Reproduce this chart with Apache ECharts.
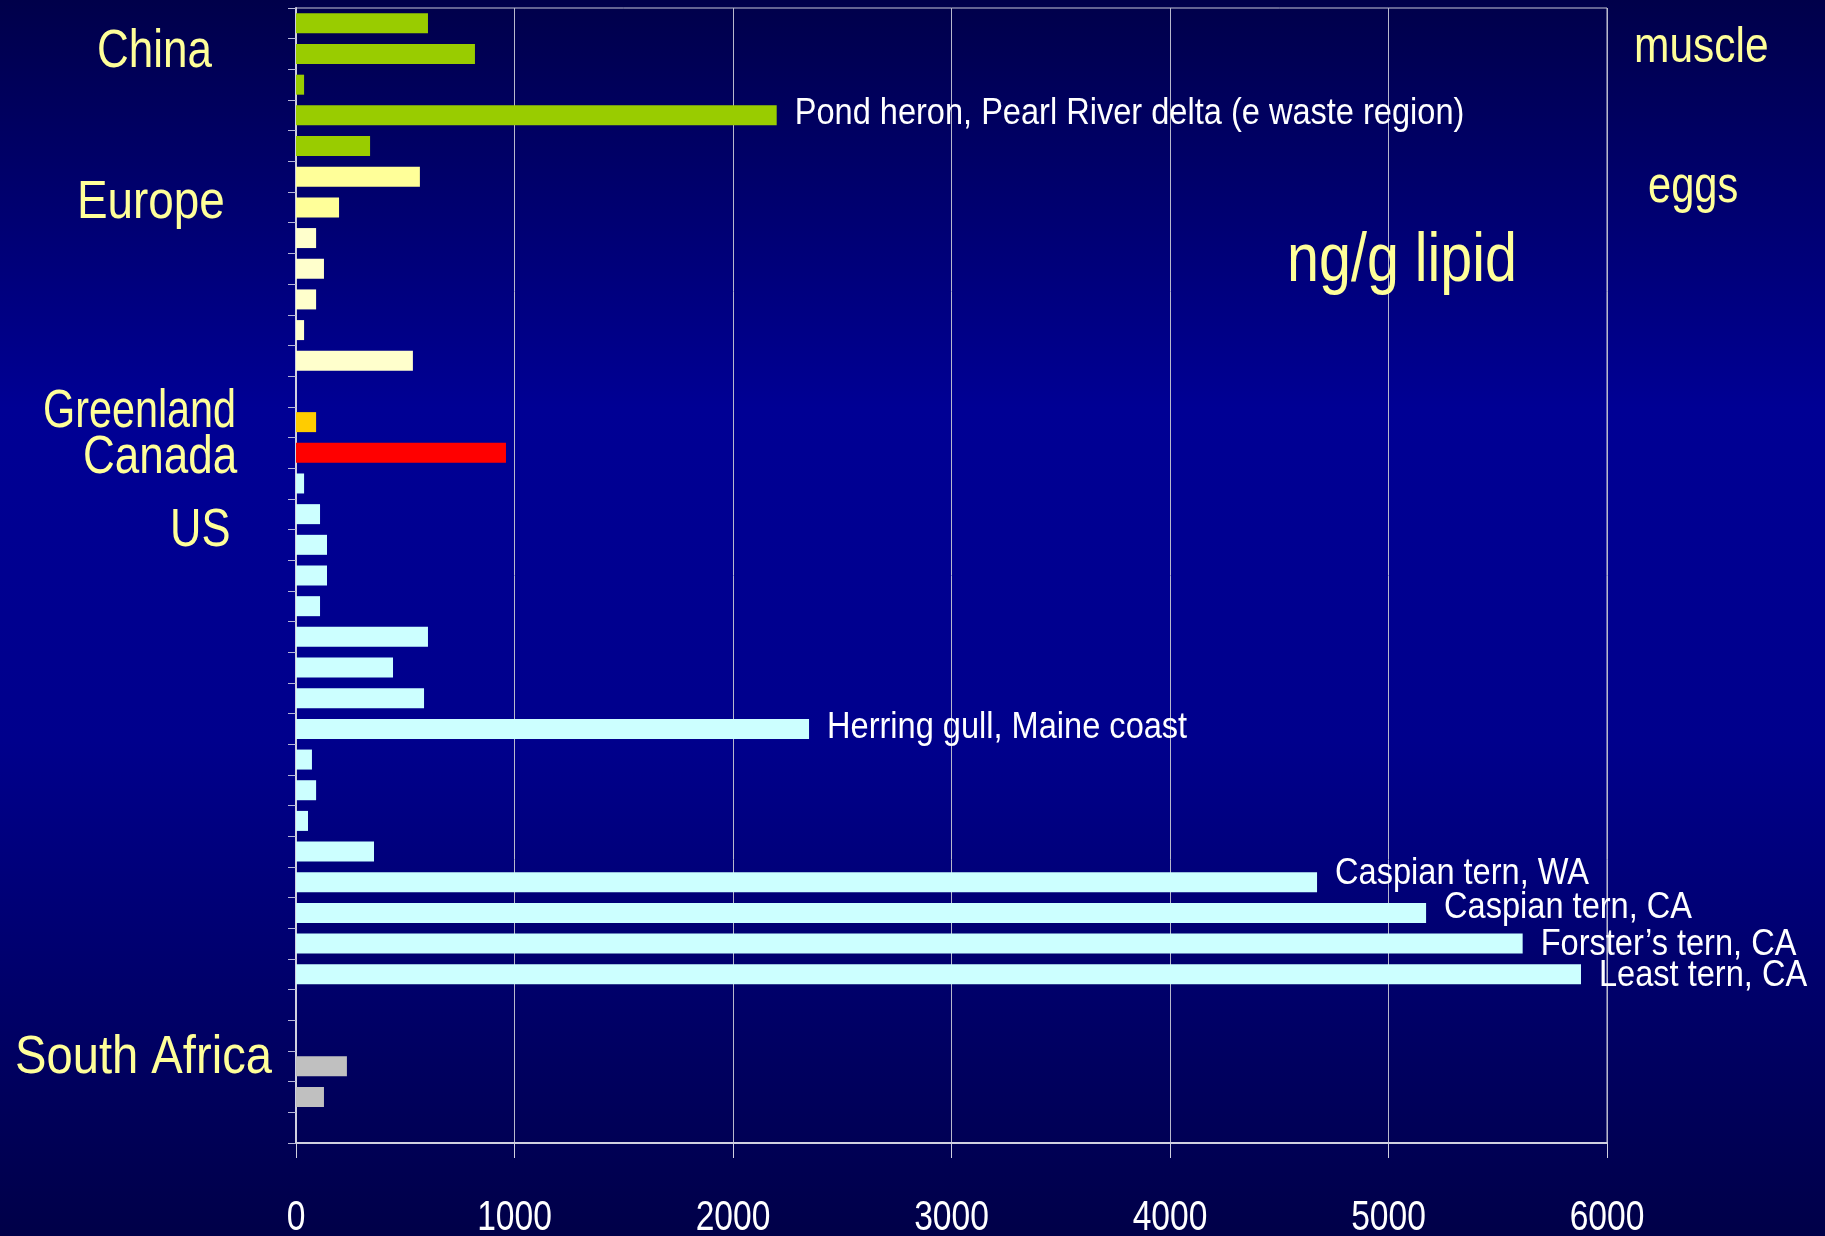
<!DOCTYPE html>
<html>
<head>
<meta charset="utf-8">
<script src="https://cdn.jsdelivr.net/npm/echarts@6/dist/echarts.min.js"></script>
<style>
  html, body { margin: 0; padding: 0; width: 1825px; height: 1236px; overflow: hidden; background: #000070; }
  #chart { width: 1825px; height: 1236px; }
</style>
</head>
<body>
<div id="chart"></div>
<script>
// ---- data (ng/g lipid) ----
const chinaMuscle     = [604, 819, 37, 2200, 339];
const europeEggs      = [567, 197, 92, 128, 92, 37, 535];
const greenlandEggs   = [92];
const canadaEggs      = [961];
const usEggs          = [37, 110, 142, 142, 110, 604, 444, 586, 2348, 73, 92, 55, 357, 4673, 5172, 5614, 5881];
const southAfricaEggs = [233, 128];
const xTicks          = [0, 1000, 2000, 3000, 4000, 5000, 6000];
const regionNames     = ['China', 'Europe', 'Greenland', 'Canada', 'US', 'South Africa'];
const sideLabels      = ['muscle', 'eggs', 'ng/g lipid'];
const annotations = [
  { region: 'China', index: 3,  text: 'Pond heron, Pearl River delta (e waste region)' },
  { region: 'US',    index: 8,  text: 'Herring gull, Maine coast' },
  { region: 'US',    index: 13, text: 'Caspian tern, WA' },
  { region: 'US',    index: 14, text: 'Caspian tern, CA' },
  { region: 'US',    index: 15, text: 'Forster\u2019s tern, CA' },
  { region: 'US',    index: 16, text: 'Least tern, CA' }
];

// ---- styles / layout ----
const FONT = '"Liberation Sans", Arial, sans-serif';
const YELLOW = '#FFFF99';
const annotationOffsets = [-2, -1, -8, -5, 1, 2];

const blocks = [
  { region: 'China', values: chinaMuscle, color: (i) => '#99CC00' },
  { region: 'Europe', values: europeEggs, color: (i) => i < 2 ? '#FFFF99' : '#FFFFCC' },
  { gap: 1 },
  { region: 'Greenland', values: greenlandEggs, color: () => '#FFCC00' },
  { region: 'Canada', values: canadaEggs, color: () => '#FF0000' },
  { region: 'US', values: usEggs, color: () => '#CCFFFF' },
  { gap: 2 },
  { region: 'South Africa', values: southAfricaEggs, color: () => '#C0C0C0' },
  { gap: 1 }
];

const categories = [];
const barData = [];
const annotationData = [];
let gapCount = 0;
blocks.forEach(b => {
  if (b.gap) {
    for (let g = 0; g < b.gap; g++) { categories.push('gap' + (++gapCount)); barData.push(null); }
    return;
  }
  b.values.forEach((v, i) => {
    const row = categories.length;
    categories.push(b.region + ' ' + (i + 1));
    barData.push({ value: v, itemStyle: { color: b.color(i) } });
    const k = annotations.findIndex(a => a.region === b.region && a.index === i);
    if (k >= 0) annotationData.push([v, row, k]);
  });
});

function txt(x, y, text, size, fill, scaleX, align) {
  return {
    type: 'text', x: x, y: y, scaleX: scaleX, scaleY: 1, z: 10, silent: true,
    style: { text: text, fill: fill, font: size + 'px ' + FONT,
      textAlign: align || 'left', align: align || 'left',
      textVerticalAlign: 'middle', verticalAlign: 'middle' }
  };
}

// [left x, centre y, horizontal squeeze]
const regionLabelPos = {
  'China': [97, 52, 0.83], 'Europe': [77, 203, 0.865], 'Greenland': [43, 412, 0.78],
  'Canada': [83, 458, 0.83], 'US': [170, 531, 0.82], 'South Africa': [15, 1058, 0.89]
};
const sidePos = { 'muscle': [1634, 48, 50, 0.85], 'eggs': [1648, 188, 52, 0.8], 'ng/g lipid': [1287, 262, 68, 0.845] };

const graphics = [];
regionNames.forEach(n => {
  const p = regionLabelPos[n];
  graphics.push(txt(p[0], p[1], n, 53, YELLOW, p[2], 'left'));
});
sideLabels.forEach(n => {
  const p = sidePos[n];
  graphics.push(txt(p[0], p[1], n, p[2], YELLOW, p[3], 'left'));
});

const chart = echarts.init(document.getElementById('chart'), null, { renderer: 'canvas' });
chart.setOption({
  backgroundColor: {
    type: 'linear', x: 0, y: 0, x2: 0, y2: 1,
    colorStops: [
      { offset: 0, color: '#00004a' },
      { offset: 0.33, color: '#000094' },
      { offset: 0.6, color: '#00008c' },
      { offset: 1, color: '#000048' }
    ]
  },
  animation: false,
  grid: { left: 296, right: 218, top: 8, bottom: 93, show: true, borderColor: '#c8c8d8', borderWidth: 1, backgroundColor: 'transparent' },
  xAxis: {
    type: 'value', min: xTicks[0], max: xTicks[xTicks.length - 1], interval: 1000,
    axisLine: { show: true, lineStyle: { color: '#d0d0e0', width: 2 } },
    axisTick: { show: true, length: 15, lineStyle: { color: '#d0d0e0', width: 1 } },
    splitLine: { show: true, lineStyle: { color: '#b8b8cc', width: 1 } },
    axisLabel: { show: false }
  },
  yAxis: {
    type: 'category', data: categories, inverse: true,
    axisLine: { show: true, lineStyle: { color: '#d0d0e0', width: 2 } },
    axisTick: { show: true, length: 8, interval: 0, lineStyle: { color: '#b8b8d8', width: 1 } },
    axisLabel: { show: false },
    splitLine: { show: false }
  },
  series: [
    { name: 'PBDE', type: 'bar', data: barData, barWidth: 20, z: 3 },
    {
      name: 'annotations', type: 'custom', coordinateSystem: 'cartesian2d', silent: true, clip: false, z: 5,
      data: annotationData, encode: { x: 0, y: 1 },
      renderItem: function (params, api) {
        const p = api.coord([api.value(0), api.value(1)]);
        const k = api.value(2);
        return txt(p[0] + 18, p[1] + annotationOffsets[k], annotations[k].text, 37, '#FFFFFF', 0.88, 'left');
      }
    },
    {
      name: 'xTickLabels', type: 'custom', coordinateSystem: 'cartesian2d', silent: true, clip: false, z: 5,
      data: xTicks.map(v => [v, 0]), encode: { x: 0, y: 1 },
      renderItem: function (params, api) {
        const p = api.coord([api.value(0), 0]);
        const cs = params.coordSys;
        return txt(p[0], cs.y + cs.height + 75, String(api.value(0)), 42, '#FFFFFF', 0.8, 'center');
      }
    }
  ],
  graphic: graphics
});
</script>
</body>
</html>
